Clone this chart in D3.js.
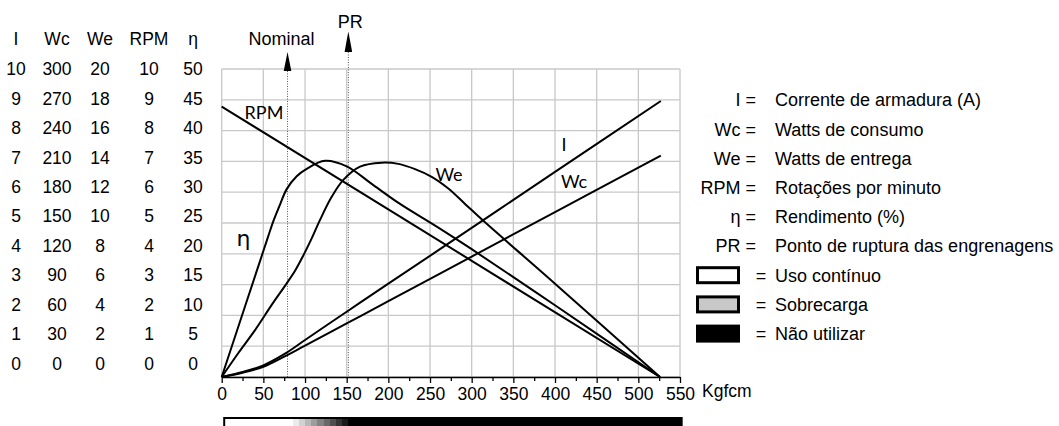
<!DOCTYPE html>
<html>
<head>
<meta charset="utf-8">
<script src="https://d3js.org/d3.v7.min.js"></script>
<style>
body { margin: 0; background: #fff; }
text { font-family: "Liberation Sans", Arial, sans-serif; fill: #000; }
.curve { fill: none; stroke: #000; stroke-width: 2; }
.grid line { stroke: #c8c8c8; stroke-width: 1.3; }
.lbl { font-family: Lato, "Open Sans", sans-serif; font-size: 18px; }
</style>
</head>
<body>
<div id="chart"></div>
<script>
// torque axis (Kgfcm)
var torqueTicks = [0, 50, 100, 150, 200, 250, 300, 350, 400, 450, 500, 550];
var nominalTorque = 79;
var prTorque = 152;
var zoneStops = [85, 152]; // white -> black gradient of the bottom bar

// table columns and their tick labels
var colNames = ["I", "Wc", "We", "RPM", "η"];
var colMax = [10, 300, 20, 10, 50];
var iTicks = [0, 1, 2, 3, 4, 5, 6, 7, 8, 9, 10];
var wcTicks = [0, 30, 60, 90, 120, 150, 180, 210, 240, 270, 300];
var weTicks = [0, 2, 4, 6, 8, 10, 12, 14, 16, 18, 20];
var rpmTicks = [0, 1, 2, 3, 4, 5, 6, 7, 8, 9, 10];
var etaTicks = [0, 5, 10, 15, 20, 25, 30, 35, 40, 45, 50];
var colTicks = [iTicks, wcTicks, weTicks, rpmTicks, etaTicks];

// curves
var iTorque = [0, 25, 50, 75, 100, 150, 200, 300, 400, 527];
var iValues = [0, 0.16, 0.38, 0.74, 1.2, 2.12, 3.03, 4.84, 6.66, 8.96];

var wcTorque = [0, 25, 50, 75, 100, 150, 200, 300, 400, 527];
var wcValues = [0, 4.2, 10, 19.8, 30.6, 52.2, 73.8, 117.3, 160.5, 215.7];

var weTorque = [0, 20, 40, 60, 78, 88, 98, 108, 118, 132, 146, 166, 192, 212, 232, 252, 272, 292, 314, 400, 526];
var weValues = [0, 1.56, 3.04, 4.68, 6.08, 6.9, 7.9, 9.0, 10.2, 11.7, 12.8, 13.66, 13.92, 13.84, 13.5, 13.0, 12.24, 11.24, 10.14, 6.06, 0];

var rpmTorque = [0, 526];
var rpmValues = [8.78, 0];

var etaTorque = [0, 55, 62, 70, 78, 90, 102, 124, 150, 182, 214, 260, 300, 400, 526];
var etaValues = [0, 22.5, 25.3, 28, 30.5, 32.6, 33.8, 35.1, 34.2, 31.15, 28.1, 24.25, 20.75, 11.65, 0];

// legend
var legendKeys = ["I", "Wc", "We", "RPM", "η", "PR"];
var legendTexts = ["Corrente de armadura (A)", "Watts de consumo", "Watts de entrega",
  "Rotações por minuto", "Rendimento (%)", "Ponto de ruptura das engrenagens"];
var boxFills = ["#fff", "#c8c8c8", "#000"];
var boxTexts = ["Uso contínuo", "Sobrecarga", "Não utilizar"];

var W = 1059, H = 426;
var plotTop = 69, plotBottom = 377, plotLeft = 221.7, plotRight = 680;

var svg = d3.select("#chart").append("svg").attr("width", W).attr("height", H);

var x = d3.scaleLinear().domain([0, 550]).range([plotLeft, plotRight]);
var yScales = colMax.map(function(m) {
  return d3.scaleLinear().domain([0, m]).range([plotBottom, plotTop]);
});
var yI = yScales[0], yWc = yScales[1], yWe = yScales[2], yRpm = yScales[3], yEta = yScales[4];
var tableY = d3.scaleLinear().domain([0, 10]).range([363.7, 69]);
var colX = [16, 57, 100, 149, 193];

// grid
var grid = svg.append("g").attr("class", "grid");
grid.selectAll(".v").data(torqueTicks).enter().append("line")
  .attr("x1", function(d) { return x(d); }).attr("x2", function(d) { return x(d); })
  .attr("y1", plotTop).attr("y2", plotBottom);
grid.selectAll(".h").data(iTicks).enter().append("line")
  .attr("x1", plotLeft).attr("x2", plotRight)
  .attr("y1", function(d) { return yI(d); }).attr("y2", function(d) { return yI(d); });

// nominal / PR markers
function marker(t, tipY, baseY) {
  svg.append("line").attr("x1", x(t)).attr("x2", x(t)).attr("y1", baseY).attr("y2", plotBottom)
    .attr("stroke", "#555").attr("stroke-width", 1).attr("stroke-dasharray", "1,1.5");
  svg.append("path")
    .attr("d", "M" + x(t) + "," + tipY + "L" + (x(t) + 3.8) + "," + baseY + "L" + (x(t) - 3.8) + "," + baseY + "Z")
    .attr("fill", "#000");
}
marker(nominalTorque, 52, 71);
marker(prTorque, 31.5, 52);
svg.append("text").attr("x", x(nominalTorque) - 6).attr("y", 39).attr("dy", "0.35em")
  .attr("text-anchor", "middle").style("font-size", "18px").text("Nominal");
svg.append("text").attr("x", x(prTorque) + 2).attr("y", 21.5).attr("dy", "0.35em")
  .attr("text-anchor", "middle").style("font-size", "18px").text("PR");

// x axis
var xAxis = svg.append("g").attr("transform", "translate(0," + plotBottom + ")")
  .call(d3.axisBottom(x).tickValues(torqueTicks).tickSize(6).tickSizeOuter(0).tickPadding(5));
xAxis.select(".domain").attr("stroke-width", 1.5);
xAxis.selectAll(".tick line").attr("stroke-width", 1.3);
xAxis.selectAll("text").style("font-size", "17.5px").style("font-family", "Liberation Sans, Arial, sans-serif");
svg.append("g").attr("transform", "translate(0," + plotBottom + ")")
  .call(d3.axisBottom(x).tickValues(d3.range(25, 550, 50)).tickSize(4).tickFormat(""))
  .call(function(g) { g.select(".domain").remove(); g.selectAll("line").attr("stroke-width", 1.3); });
svg.append("text").attr("x", x(550) + 22).attr("y", 391).attr("dy", "0.35em")
  .style("font-size", "17.5px").text("Kgfcm");

// bottom bar, stepped grey bands between the two zone stops
var defs = svg.append("defs");
var grad = defs.append("linearGradient").attr("id", "zones")
  .attr("gradientUnits", "userSpaceOnUse")
  .attr("x1", x(zoneStops[0])).attr("x2", x(zoneStops[1])).attr("y1", 0).attr("y2", 0);
var steps = 9;
var shade = d3.scaleLinear().domain([0, steps - 1]).range(["#ececec", "#1a1a1a"]);
grad.append("stop").attr("offset", 0).attr("stop-color", "#fff");
d3.range(steps).forEach(function(k) {
  grad.append("stop").attr("offset", k / steps).attr("stop-color", shade(k));
  grad.append("stop").attr("offset", (k + 1) / steps).attr("stop-color", shade(k));
});
grad.append("stop").attr("offset", 1).attr("stop-color", "#000");
svg.append("rect").attr("x", x(3)).attr("y", 418).attr("width", x(552) - x(3)).attr("height", 20)
  .attr("fill", "url(#zones)").attr("stroke", "#000").attr("stroke-width", 2);

// curves
var line = d3.line().curve(d3.curveCatmullRom.alpha(0.5));
function draw(ts, vs, ys) {
  svg.append("path").attr("class", "curve")
    .attr("d", line(ts.map(function(t, i) { return [x(t), ys(vs[i])]; })));
}
draw(iTorque, iValues, yI);
draw(wcTorque, wcValues, yWc);
draw(weTorque, weValues, yWe);
draw(rpmTorque, rpmValues, yRpm);
draw(etaTorque, etaValues, yEta);

// curve labels
svg.append("text").attr("class", "lbl").attr("x", 264).attr("y", 113).attr("dy", "0.35em").attr("text-anchor", "middle").text("RPM");
svg.append("text").attr("class", "lbl").attr("x", 449).attr("y", 175).attr("dy", "0.35em").attr("text-anchor", "middle").text("We");
svg.append("text").attr("class", "lbl").attr("x", 564).attr("y", 145).attr("dy", "0.35em").attr("text-anchor", "middle").text("I");
svg.append("text").attr("class", "lbl").attr("x", 574).attr("y", 182).attr("dy", "0.35em").attr("text-anchor", "middle").text("Wc");
svg.append("text").attr("x", 243.5).attr("y", 238).attr("dy", "0.35em").attr("text-anchor", "middle")
  .style("font-size", "22px").style("font-family", "DejaVu Sans, sans-serif").text("η");

// table on the left
colNames.forEach(function(name, c) {
  svg.append("text").attr("x", colX[c]).attr("y", 39.3).attr("dy", "0.35em")
    .attr("text-anchor", "middle").style("font-size", "17.5px").text(name);
  svg.selectAll(".col" + c).data(colTicks[c]).enter().append("text")
    .attr("x", colX[c])
    .attr("y", function(d) { return tableY(d * 10 / colMax[c]); })
    .attr("dy", "0.35em").attr("text-anchor", "middle").style("font-size", "17.5px")
    .text(function(d) { return d; });
});

// legend
var rowY = function(i) { return 100 + i * 29.2; };
svg.selectAll(".lk").data(legendKeys).enter().append("text")
  .attr("x", 756).attr("y", function(d, i) { return rowY(i); }).attr("dy", "0.35em")
  .attr("text-anchor", "end").style("font-size", "18px").text(function(d) { return d + " ="; });
svg.selectAll(".lt").data(legendTexts.concat(boxTexts)).enter().append("text")
  .attr("x", 775).attr("y", function(d, i) { return rowY(i); }).attr("dy", "0.35em")
  .style("font-size", "18px").text(function(d) { return d; });
svg.selectAll(".lb").data(boxFills).enter().append("rect")
  .attr("x", 697.5).attr("y", function(d, i) { return rowY(i + 6) - 7.5; })
  .attr("width", 41).attr("height", 15)
  .attr("fill", function(d) { return d; }).attr("stroke", "#000").attr("stroke-width", 3);
svg.selectAll(".le").data(boxFills).enter().append("text")
  .attr("x", 761).attr("y", function(d, i) { return rowY(i + 6); }).attr("dy", "0.35em")
  .attr("text-anchor", "middle").style("font-size", "18px").text("=");
</script>
</body>
</html>
